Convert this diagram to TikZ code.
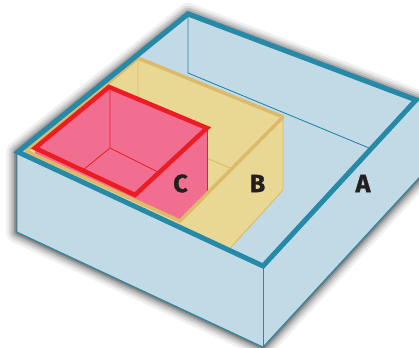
\documentclass[tikz,border=0pt]{standalone}
\usepackage{fontspec}
\setmainfont{Fira Sans}[BoldFeatures={FakeBold=1.2}]
\definecolor{boxblue}{HTML}{C2DAE6}
\definecolor{rimteal}{HTML}{2589A8}
\definecolor{boxyellow}{HTML}{E8D894}
\definecolor{rimtan}{HTML}{DDB96A}
\definecolor{boxpink}{HTML}{F26E91}
\definecolor{rimred}{HTML}{ED1C24}
\definecolor{labelink}{HTML}{231F20}
\begin{document}
\begin{tikzpicture}[x=1pt,y=-1pt,
  thinA/.style={draw=rimteal,line width=0.9pt},
  thinB/.style={draw=rimtan,line width=0.9pt},
  thinC/.style={draw=rimred,line width=0.8pt},
  rimA/.style={draw=rimteal,line width=5pt,line join=miter},
  rimB/.style={draw=rimtan,line width=3.5pt,line join=miter},
  rimC/.style={draw=rimred,line width=4.5pt,line join=miter},
  lbl/.style={text=labelink,font=\fontsize{25}{25}\selectfont\bfseries,inner sep=0pt}]
\useasboundingbox (0,0) rectangle (419,347);
\clip (0,0) rectangle (419,347);
% --- box A coordinates
\coordinate (At) at (188,14);
\coordinate (Ar) at (416,100);
\coordinate (Af) at (263,266);
\coordinate (Al) at (18,152);
\coordinate (Afb) at (263,347);
\coordinate (Alb) at (17,232);
\coordinate (Arb) at (428,168);
\coordinate (Ain) at (188,73);
\coordinate (Aie) at (370,148.4);
% --- glow / shadow
\foreach \w/\o in {22/0.06,17/0.08,13/0.1,9/0.12,6/0.15,3/0.2}{
  \draw[line width=\w pt,draw=black,opacity=\o,line join=round]
    (At) -- (Ar) -- (428,104) -- (Arb) -- (Afb) -- (Alb) -- (17,152) -- cycle;
}
% --- box A body
\fill[boxblue] (At) -- (Ar) -- (428,104) -- (Arb) -- (Afb) -- (Alb) -- (17,152) -- cycle;
\draw[thinA] (Af) -- (Afb);
\draw[thinA] (17,152) -- (Alb) -- (Afb) -- (Arb);
\draw[thinA] (At) -- (Ain) -- (Aie);
% --- box B
\coordinate (Bt) at (138,58);
\coordinate (Br) at (283,117);
\coordinate (Bf) at (180,221);
\coordinate (Bl) at (26,151);
\coordinate (Brb) at (283,190);
\coordinate (Bcut) at (228.5,250);
\coordinate (Bin) at (138,129);
\coordinate (Bie) at (230,168);
\fill[boxyellow] (Bt) -- (Br) -- (Brb) -- (Bcut) -- (24,155) -- (Bl) -- cycle;
\draw[thinB] (Bt) -- (Bin) -- (Bie);
\draw[thinB] (Br) -- (Brb) -- (Bcut);
\draw[rimB] (Bl) -- (Bt) -- (Br);
% --- box C
\coordinate (Ct) at (109,87);
\coordinate (Cr) at (207,128);
\coordinate (Cf) at (135,195);
\coordinate (Cl) at (35,148);
\coordinate (Crb) at (207,192);
\coordinate (Cin) at (110,148);
\coordinate (Cie1) at (83,170);
\coordinate (Cie2) at (158,172);
\fill[boxpink] (Ct) -- (Cr) -- (Crb) -- (Bf) -- (35,155) -- (Cl) -- cycle;
\draw[thinC] (110,87) -- (Cin) -- (Cie1);
\draw[thinC] (Cin) -- (Cie2);
\draw[thinC] (Cr) -- (Crb);
\draw[rimC] (Ct) -- (Cr) -- (Cf) -- (Cl) -- cycle;
% --- B front rim
\draw[rimB,line cap=round] (Br) -- (Bf) -- (Bl);
% --- A rim
\draw[rimA] (At) -- (Ar) -- (Af) -- (Al) -- cycle;
% --- labels
\node[lbl] (lc) at (180.5,183.5) {C};
\node[lbl] (lb) at (257.5,183.5) {B};
\node[lbl] (la) at (363,183.5) {A};
\end{tikzpicture}
\end{document}
